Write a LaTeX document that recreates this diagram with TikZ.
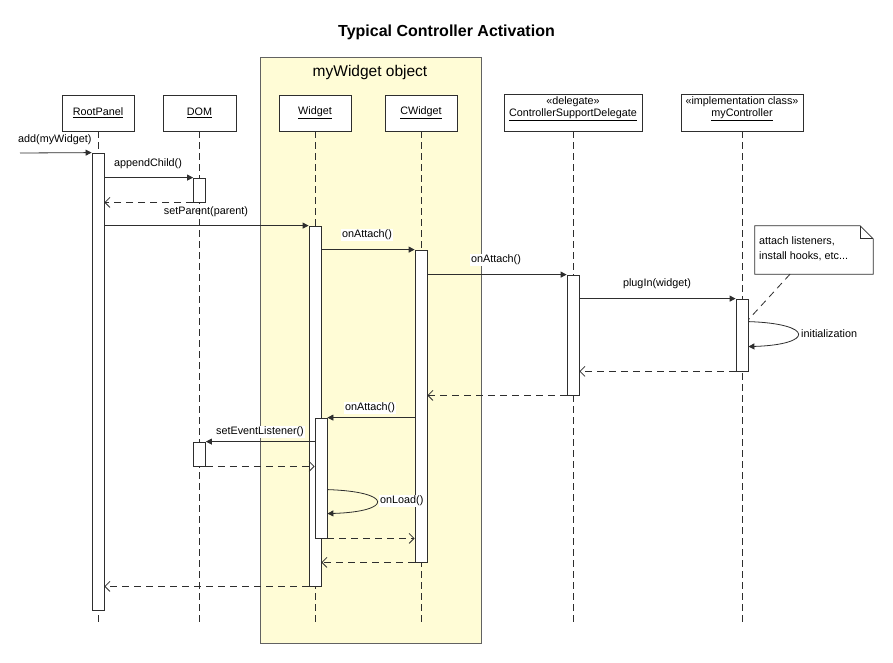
\documentclass[tikz,border=0pt]{standalone}
\usepackage{fontspec}
\setmainfont{Liberation Sans}
\usetikzlibrary{arrows.meta}
\definecolor{frameyellow}{HTML}{FFFCD6}
\definecolor{ln}{HTML}{2E2E2E}
\begin{document}
\begin{tikzpicture}[x=1pt,y=-1pt,
  txt/.style={font=\fontsize{10.8}{12}\selectfont},
  lbl/.style={txt, fill=white, inner sep=1pt},
  lblclear/.style={txt, inner sep=1pt},
  headbox/.style={draw=ln, fill=white, line width=0.9pt, minimum height=36pt, inner sep=0pt, txt},
  actbox/.style={draw=ln, fill=white, line width=0.8pt, minimum width=12pt, inner sep=0pt},
  life/.style={draw=ln, line width=0.8pt, dash pattern=on 7pt off 4pt},
  msg/.style={draw=ln, line width=0.8pt, -{Triangle[length=6pt,width=6pt]}},
  ret/.style={draw=ln, line width=0.8pt, dash pattern=on 7pt off 5pt, -{Straight Barb[length=5pt,width=10pt]}},
  selfmsg/.style={draw=ln, line width=0.8pt, -{Triangle[length=6pt,width=6pt]}}
]
\useasboundingbox (0,0) rectangle (893,662);
\fill[white] (0,0) rectangle (893,662);

% title
\node[font=\fontsize{16}{18}\selectfont\bfseries] (title) at (446.5,32) {Typical Controller Activation};

% frame
\node[draw=ln!75, fill=frameyellow, line width=0.9pt, minimum width=221pt, minimum height=586pt, inner sep=0pt] (frame) at (370.5,350) {};
\node[font=\fontsize{15.5}{18}\selectfont] (frametitle) at (370,72) {myWidget object};

% heads
\node[headbox, minimum width=72pt] (hRP) at (98,113) {\underline{RootPanel}};
\node[headbox, minimum width=73pt] (hDOM) at (199.5,113) {\underline{DOM}};
\node[headbox, minimum width=72pt] (hW) at (315,113) {\underline{Widget}};
\node[headbox, minimum width=72pt] (hCW) at (421,113) {\underline{CWidget}};
\node[headbox, minimum width=138pt, minimum height=37pt] (hDL) at (573,112.5) {};
\node[txt, align=center, inner sep=0pt] (hDLt) at (573,108.5) {«delegate»\\\underline{ControllerSupportDelegate}};
\node[headbox, minimum width=122pt, minimum height=37pt] (hMC) at (742,112.5) {};
\node[txt, align=center, inner sep=0pt] (hMCt) at (742,108.5) {«implementation class»\\\underline{myController}};

% lifelines
\coordinate (lend) at (0,626);
\draw[life] (hRP.south) -- (hRP.south |- lend);
\draw[life] (hDOM.south) -- (hDOM.south |- lend);
\draw[life] (hW.south) -- (hW.south |- lend);
\draw[life] (hCW.south) -- (hCW.south |- lend);
\draw[life] (hDL.south) -- (hDL.south |- lend);
\draw[life] (hMC.south) -- (hMC.south |- lend);

% activations
\node[actbox, minimum height=457pt] (rpA) at (98,381.5) {};
\node[actbox, minimum height=24pt] (domA) at (199.5,190) {};
\node[actbox, minimum height=360pt] (wA) at (315,406) {};
\node[actbox, minimum height=312pt] (cwA) at (421,406) {};
\node[actbox, minimum height=120pt] (dlA) at (573,335) {};
\node[actbox, minimum height=72pt] (mcA) at (742,335) {};
\node[actbox, minimum height=120pt] (wB) at (321,478) {};
\node[actbox, minimum height=24pt] (domB) at (199.5,454) {};

% messages
\coordinate (start) at (20,153);
\draw[msg] (start) -- (rpA.north west);
\node[lblclear, anchor=west] (l1) at (17,140) {add(myWidget)};

\draw[msg] (rpA.east |- domA.north) -- (domA.north west);
\node[lbl] (l2) at (148,164) {appendChild()};
\draw[ret] (domA.south west) -- (rpA.east |- domA.south);

\draw[msg] (rpA.east |- wA.north) -- (wA.north west);
\node[lblclear] (l3) at (206,212) {setParent(parent)};

\draw[msg] (wA.east |- cwA.north) -- (cwA.north west);
\node[lbl] (l4) at (367,235) {onAttach()};

\draw[msg] (cwA.east |- dlA.north) -- (dlA.north west);
\node[lbl] (l5) at (496,260) {onAttach()};

\draw[msg] (dlA.east |- mcA.north) -- (mcA.north west);
\node[lbl] (l6) at (657,284) {plugIn(widget)};

\draw[selfmsg] ([yshift=-23pt]mcA.north east) .. controls +(66,2) and +(66,-2) .. ([yshift=-48pt]mcA.north east);
\node[lbl, anchor=west] (l7) at (800,334) {initialization};

\draw[ret] (mcA.south west) -- (dlA.east |- mcA.south);
\draw[ret] (dlA.south west) -- (cwA.east |- dlA.south);

\draw[msg] (cwA.west |- wB.north) -- (wB.north east);
\node[lbl] (l8) at (370,408) {onAttach()};

\draw[msg] (wB.west |- domB.north) -- (domB.north east);
\node[lbl] (l9) at (260,432) {setEventListener()};
\draw[ret] (domB.south east) -- (wB.west |- domB.south);

\draw[selfmsg] ([yshift=-72pt]wB.north east) .. controls +(66,2) and +(66,-2) .. ([yshift=-96pt]wB.north east);
\node[lbl, anchor=west] (l10) at (379,501) {onLoad()};

\draw[ret] (wB.south east) -- (cwA.west |- wB.south);
\draw[ret] (cwA.south west) -- (wA.east |- cwA.south);
\draw[ret] (wA.south west) -- (rpA.east |- wA.south);

% note
\node[minimum width=118pt, minimum height=48pt, inner sep=0pt] (nt) at (814,250) {};
\draw[draw=ln, fill=white, line width=0.8pt] (nt.north west) -- ([xshift=-13pt]nt.north east) -- ([yshift=-13pt]nt.north east) -- (nt.south east) -- (nt.south west) -- cycle;
\draw[draw=ln, line width=0.8pt] ([xshift=-13pt]nt.north east) |- ([yshift=-13pt]nt.north east);
\node[txt, align=left, anchor=west, inner sep=0pt, font=\fontsize{10.8}{15}\selectfont] (ntt) at (759,249) {attach listeners,\\install hooks, etc...};
\draw[draw=ln, line width=0.8pt, dash pattern=on 7pt off 5pt] ([xshift=-24pt]nt.south) -- ([yshift=-21pt]mcA.north east);
\end{tikzpicture}
\end{document}
